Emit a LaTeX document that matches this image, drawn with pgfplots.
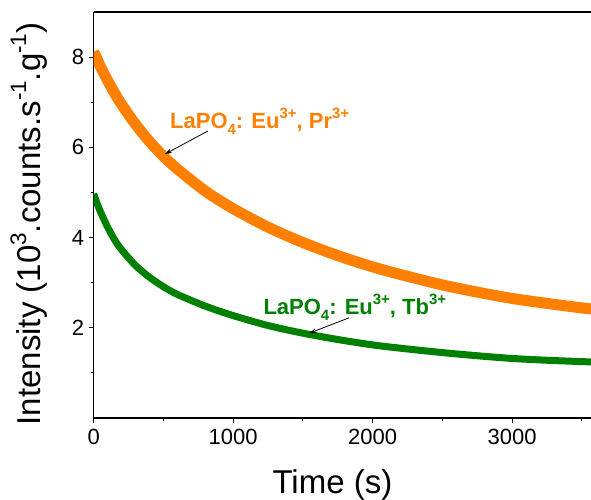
\documentclass[border=0pt]{standalone}
\usepackage{fontspec}
\setmainfont{Liberation Sans}
\usepackage{pgfplots}
\pgfplotsset{compat=1.18}
\usetikzlibrary{arrows.meta}
\definecolor{orgorange}{RGB}{255,128,0}
\definecolor{orggreen}{RGB}{0,128,0}
\newcommand{\sups}[1]{\raisebox{0.45em}{\scalebox{0.68}{#1}}}
\newcommand{\subs}[1]{\raisebox{-0.28em}{\scalebox{0.68}{#1}}}
\begin{document}
\begin{tikzpicture}
\begin{axis}[
  name=ax,
  scale only axis,
  width=497.3pt, height=406pt,
  xmin=0, xmax=3565, ymin=0, ymax=9,
  axis x line*=bottom, axis y line*=left,
  axis line style={-, line width=1.2pt},
  xtick={0,1000,2000,3000}, minor xtick={500,1500,2500,3500},
  ytick={2,4,6,8}, minor ytick={1,3,5,7},
  tick align=outside,
  major tick length=5pt, minor tick length=3pt,
  every tick/.style={black, line width=1pt},
  /pgf/number format/assume math mode=true,
  /pgf/number format/1000 sep={},
  tick label style={font=\fontsize{22}{26}\selectfont},
  xticklabel style={yshift=-3pt},
  yticklabel style={xshift=-1pt},
  xlabel={Time (s)},
  ylabel={Intensity (10\sups{3}.counts.s\sups{-1}.g\sups{-1})},
  label style={font=\fontsize{33}{40}\selectfont},
  xlabel style={at={(axis description cs:0.48,-0.187)}, anchor=base},
  ylabel style={at={(axis description cs:-0.106,0.478)}, anchor=base},
  clip=true,
]
\addplot[orgorange, line width=11pt, smooth, tension=0.5] coordinates {
(0,8.12) (50,7.78) (100,7.48) (150,7.20) (200,6.95) (300,6.51) (400,6.13) (500,5.80)
(600,5.52) (800,5.03) (1000,4.64) (1250,4.23) (1500,3.89) (1750,3.60) (2000,3.35)
(2250,3.14) (2500,2.95) (2750,2.79) (3000,2.65) (3250,2.54) (3500,2.44) (3600,2.41)};
\addplot[orggreen, line width=7pt, smooth, tension=0.5] coordinates {
(0,4.97) (25,4.75) (50,4.56) (100,4.23) (150,3.95) (200,3.73) (300,3.38) (400,3.12)
(500,2.91) (600,2.74) (800,2.48) (1000,2.27) (1250,2.05) (1500,1.88) (1750,1.74)
(2000,1.62) (2250,1.53) (2500,1.45) (2750,1.38) (3000,1.32) (3250,1.28) (3500,1.25)
(3600,1.24)};
\draw[line width=1.2pt] (rel axis cs:0,1) -- (rel axis cs:1,1);
\draw[-{Stealth[length=7pt,width=4.5pt]}, line width=0.8pt] (axis cs:817,6.36) -- (axis cs:511,5.85);
\draw[-{Stealth[length=7pt,width=4.5pt]}, line width=0.8pt] (axis cs:1830,2.22) -- (axis cs:1545,1.88);
\node[anchor=base west, inner sep=0pt, text=orgorange, font=\fontsize{22}{26}\selectfont\bfseries]
  at (axis cs:547,6.42) {LaPO\subs{4}: Eu\sups{3+}, Pr\sups{3+}};
\node[anchor=base west, inner sep=0pt, text=orggreen, font=\fontsize{22}{26}\selectfont\bfseries]
  at (axis cs:1216,2.30) {LaPO\subs{4}: Eu\sups{3+}, Tb\sups{3+}};
\end{axis}
\pgfresetboundingbox
\path[use as bounding box] ([xshift=-93.7pt,yshift=-81pt]ax.south west) rectangle ([yshift=12pt]ax.north east);
\end{tikzpicture}
\end{document}
